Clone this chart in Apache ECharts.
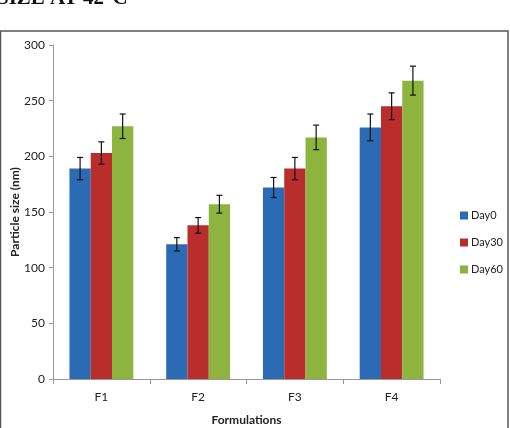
<!DOCTYPE html>
<html>
<head>
<meta charset="utf-8">
<script src="https://cdn.jsdelivr.net/npm/echarts@6/dist/echarts.min.js"></script>
<style>
  html, body { margin: 0; padding: 0; background: #fff; }
  #chart { width: 510px; height: 428px; }
</style>
</head>
<body>
<div id="chart"></div>
<script>
var categories = ['F1', 'F2', 'F3', 'F4'];
var seriesNames = ['Day0', 'Day30', 'Day60'];
var day0 = [189, 121, 172, 226];
var day30 = [203, 138, 189, 245];
var day60 = [227, 157, 217, 268];
var err0 = [10, 6, 9, 12];
var err30 = [10, 7, 10, 12];
var err60 = [11, 8, 11, 13];
var yTicks = [0, 50, 100, 150, 200, 250, 300];

var colors = ['#2B6BB4', '#BA2D2D', '#8CB43F'];
var values = [day0, day30, day60];
var errors = [err0, err30, err60];

var chartDom = document.getElementById('chart');
var myChart = echarts.init(chartDom);
var option;

var series = [];
values.forEach(function (v, i) {
    series.push({
        name: seriesNames[i],
        type: 'bar',
        data: v,
        barGap: '0%',
        barCategoryGap: '34%',
        itemStyle: { color: colors[i] }
    });
});

// error bars, placed over each bar through the bar layout
values.forEach(function (v, i) {
    var data = v.map(function (val, j) {
        return [j, val - errors[i][j], val + errors[i][j]];
    });
    series.push({
        type: 'custom',
        name: seriesNames[i] + '_err',
        z: 10,
        silent: true,
        data: data,
        renderItem: function (params, api) {
            var idx = api.value(0);
            var lo = api.coord([idx, api.value(1)]);
            var hi = api.coord([idx, api.value(2)]);
            var bandW = api.size([1, 0])[0];
            var groupW = bandW * 0.66;
            var barW = groupW / 3;
            var x = lo[0] - groupW / 2 + barW * (i + 0.5);
            var cap = 3;
            var st = { stroke: '#111', lineWidth: 1.2 };
            return {
                type: 'group',
                children: [
                    { type: 'line', shape: { x1: x, y1: hi[1], x2: x, y2: lo[1] }, style: st },
                    { type: 'line', shape: { x1: x - cap, y1: hi[1], x2: x + cap, y2: hi[1] }, style: st },
                    { type: 'line', shape: { x1: x - cap, y1: lo[1], x2: x + cap, y2: lo[1] }, style: st }
                ]
            };
        }
    });
});

option = {
    animation: false,
    textStyle: { fontFamily: 'Lato, "Open Sans", sans-serif' },
    graphic: [
        {
            type: 'text',
            left: -3,
            top: -12,
            style: {
                text: 'SIZE AT 42°C',
                font: 'bold 21px "Liberation Serif", serif',
                fill: '#111'
            }
        },
        {
            type: 'rect',
            shape: { x: 0.5, y: 31, width: 507.5, height: 420 },
            style: { fill: 'none', stroke: '#555', lineWidth: 1.5 }
        }
    ],
    grid: {
        left: 53,
        top: 45,
        right: 70,
        bottom: 49,
        containLabel: false,
        outerBoundsMode: 'none'
    },
    legend: {
        data: seriesNames,
        orient: 'vertical',
        left: 455,
        top: 205,
        itemWidth: 8,
        itemHeight: 8,
        itemGap: 16,
        icon: 'rect',
        textStyle: { fontSize: 11, color: '#222', padding: [0, 0, 0, -2] }
    },
    xAxis: {
        type: 'category',
        data: categories,
        name: 'Formulations',
        nameLocation: 'middle',
        nameGap: 35,
        nameMoveOverlap: false,
        nameTextStyle: { fontSize: 12, fontWeight: 'bold', color: '#222' },
        axisLine: { lineStyle: { color: '#999' } },
        axisTick: { show: true, alignWithLabel: false, length: 5, lineStyle: { color: '#999' } },
        axisLabel: { fontSize: 12, color: '#222', margin: 12 }
    },
    yAxis: {
        type: 'value',
        min: yTicks[0],
        max: yTicks[yTicks.length - 1],
        interval: 50,
        name: 'Particle size (nm)',
        nameLocation: 'middle',
        nameGap: 32,
        nameMoveOverlap: false,
        nameTextStyle: { fontSize: 12, fontWeight: 'bold', color: '#222' },
        axisLine: { show: true, lineStyle: { color: '#999' } },
        axisTick: { show: true, length: 4, lineStyle: { color: '#999' } },
        axisLabel: { fontSize: 12, color: '#222', margin: 8 },
        splitLine: { show: false }
    },
    series: series
};

option && myChart.setOption(option);
</script>
</body>
</html>
